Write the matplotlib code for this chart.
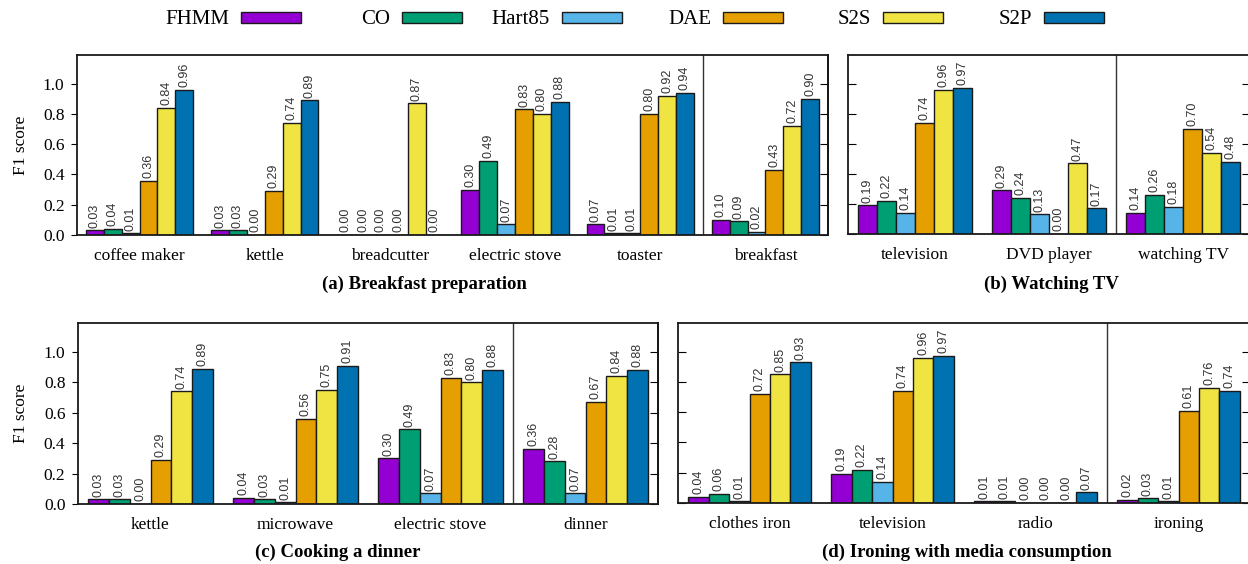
import numpy as np
import matplotlib.pyplot as plt
from matplotlib.patches import Rectangle

plt.rcParams['font.family'] = ['Liberation Serif', 'DejaVu Serif']

methods = ['FHMM', 'CO', 'Hart85', 'DAE', 'S2S', 'S2P']
colors = ['#9400D3', '#009E73', '#56B4E9', '#E69F00', '#F0E442', '#0072B2']

# (a) Breakfast preparation
a_cats = ['coffee maker', 'kettle', 'breadcutter', 'electric stove', 'toaster', 'breakfast']
a_fhmm = [0.03, 0.03, 0.00, 0.30, 0.07, 0.10]
a_co = [0.04, 0.03, 0.00, 0.49, 0.01, 0.09]
a_hart = [0.01, 0.00, 0.00, 0.07, 0.01, 0.02]
a_dae = [0.36, 0.29, 0.00, 0.83, 0.80, 0.43]
a_s2s = [0.84, 0.74, 0.87, 0.80, 0.92, 0.72]
a_s2p = [0.96, 0.89, 0.00, 0.88, 0.94, 0.90]

# (b) Watching TV
b_cats = ['television', 'DVD player', 'watching TV']
b_fhmm = [0.19, 0.29, 0.14]
b_co = [0.22, 0.24, 0.26]
b_hart = [0.14, 0.13, 0.18]
b_dae = [0.74, 0.00, 0.70]
b_s2s = [0.96, 0.47, 0.54]
b_s2p = [0.97, 0.17, 0.48]

# (c) Cooking a dinner
c_cats = ['kettle', 'microwave', 'electric stove', 'dinner']
c_fhmm = [0.03, 0.04, 0.30, 0.36]
c_co = [0.03, 0.03, 0.49, 0.28]
c_hart = [0.00, 0.01, 0.07, 0.07]
c_dae = [0.29, 0.56, 0.83, 0.67]
c_s2s = [0.74, 0.75, 0.80, 0.84]
c_s2p = [0.89, 0.91, 0.88, 0.88]

# (d) Ironing with media consumption
d_cats = ['clothes iron', 'television', 'radio', 'ironing']
d_fhmm = [0.04, 0.19, 0.01, 0.02]
d_co = [0.06, 0.22, 0.01, 0.03]
d_hart = [0.01, 0.14, 0.00, 0.01]
d_dae = [0.72, 0.74, 0.00, 0.61]
d_s2s = [0.85, 0.96, 0.00, 0.76]
d_s2p = [0.93, 0.97, 0.07, 0.74]

yticks = [0.0, 0.2, 0.4, 0.6, 0.8, 1.0]

W, H = 1248, 564
fig = plt.figure(figsize=(W / 100, H / 100), dpi=100)


def px_box(l, t, r, b):
    return [l / W, 1 - b / H, (r - l) / W, (b - t) / H]


def draw_panel(rect, cats, series, divider, show_labels):
    ax = fig.add_axes(px_box(*rect))
    n = len(cats)
    w = 1 / 7
    for j, vals in enumerate(series):
        xs = [i + (j - 2.5) * w for i in range(n)]
        ax.bar(xs, vals, width=w, color=colors[j], edgecolor='#1a1a1a', linewidth=1.0, zorder=2)
        for x, v in zip(xs, vals):
            ax.annotate(f'{v:.2f}', (x, v), xytext=(0, 2), textcoords='offset points',
                        rotation=90, ha='center', va='bottom', fontsize=9,
                        family='Liberation Sans', color='#333333')
    ax.axvline(divider, color='#333333', lw=1.0, zorder=1)
    ax.set_xlim(-0.5, n - 0.5)
    ax.set_ylim(0, 1.19)
    ax.set_xticks(range(n))
    ax.set_xticklabels(cats)
    ax.tick_params(axis='x', length=0, pad=9.5, labelsize=12.5)
    ax.set_yticks(yticks)
    for s in ax.spines.values():
        s.set_linewidth(1.3)
        s.set_color('#1a1a1a')
    if show_labels:
        ax.set_yticklabels([f'{t:.1f}' for t in yticks])
        ax.tick_params(axis='y', direction='out', length=4, pad=5, labelsize=12.5)
        ax.set_ylabel('F1 score', fontsize=12.5)
        ax.yaxis.set_label_coords((29 - rect[0]) / (rect[2] - rect[0]), 0.5)
    else:
        ax.tick_params(axis='y', direction='in', length=6, labelleft=False)
    sec = ax.secondary_yaxis('right')
    sec.set_yticks(yticks)
    sec.tick_params(direction='in', length=6, labelright=False)
    sec.spines['right'].set_linewidth(1.3)
    return ax


draw_panel((77, 55, 828, 235), a_cats, [a_fhmm, a_co, a_hart, a_dae, a_s2s, a_s2p], 4.5, True)
draw_panel((848, 55, 1250, 234), b_cats, [b_fhmm, b_co, b_hart, b_dae, b_s2s, b_s2p], 1.5, False)
draw_panel((78, 323, 658, 504), c_cats, [c_fhmm, c_co, c_hart, c_dae, c_s2s, c_s2p], 2.5, True)
draw_panel((678, 323, 1250, 503), d_cats, [d_fhmm, d_co, d_hart, d_dae, d_s2s, d_s2p], 2.5, False)

titles = ['(a) Breakfast preparation', '(b) Watching TV', '(c) Cooking a dinner',
          '(d) Ironing with media consumption']
title_pos = [(424, 284), (1051, 284), (338, 552), (967, 552)]
for t, (x, y) in zip(titles, title_pos):
    fig.text(x / W, 1 - y / H, t, ha='center', va='center', fontsize=13.5, fontweight='bold')

# legend, gnuplot style: label then swatch
box_left = [241, 402, 562, 723, 883, 1044]
for name, c, x in zip(methods, colors, box_left):
    fig.text((x - 12) / W, 1 - 19.5 / H, name, ha='right', va='center', fontsize=15)
    fig.add_artist(Rectangle((x / W, 1 - 23 / H), 60 / W, 11 / H, transform=fig.transFigure,
                             facecolor=c, edgecolor='#1a1a1a', lw=1.0))

fig.savefig('out.png', dpi=100)
